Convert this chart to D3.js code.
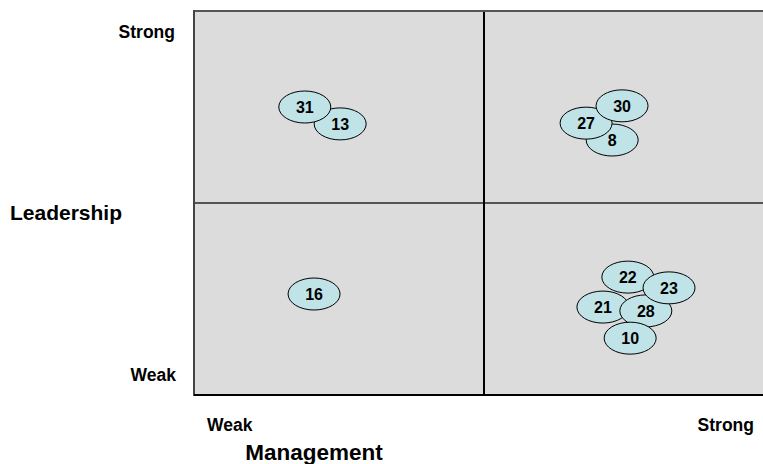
<!DOCTYPE html>
<html><head><meta charset="utf-8">
<script src="https://cdn.jsdelivr.net/npm/d3@7"></script>
<style>body{margin:0;background:#fff}svg{display:block}text{font-family:Arial,"Liberation Sans",sans-serif;font-weight:bold;fill:#000}</style>
</head><body>
<svg id="c" width="763" height="464"></svg>
<script>
const ids = ["13","31","8","27","30","16","22","21","28","23","10"];
const management = [2.52,1.91,7.21,6.76,7.38,2.07,7.48,7.05,7.79,8.19,7.52];
const leadership = [7.06,7.5,6.64,7.08,7.53,2.63,3.07,2.29,2.19,2.79,1.48];
const xLabels = ["Weak","Strong"];
const yLabels = ["Weak","Strong"];

const svg = d3.select("#c");
const x = d3.scaleLinear().domain([0,10]).range([194,774]);
const y = d3.scaleLinear().domain([0,10]).range([395,11]);

svg.append("rect").attr("x",x(0)).attr("y",y(10)).attr("width",x(10)-x(0)).attr("height",y(0)-y(10)).attr("fill","#dcdcdc");
// dividers
svg.append("line").attr("x1",x(0)).attr("x2",x(10)).attr("y1",y(5)).attr("y2",y(5)).attr("stroke","#555").attr("stroke-width",2);
svg.append("line").attr("x1",x(5)).attr("x2",x(5)).attr("y1",y(0)).attr("y2",y(10)).attr("stroke","#000").attr("stroke-width",2);
// borders
svg.append("line").attr("x1",x(0)).attr("x2",x(10)).attr("y1",y(10)).attr("y2",y(10)).attr("stroke","#555").attr("stroke-width",2);
svg.append("line").attr("x1",x(0)).attr("x2",x(0)).attr("y1",y(10)-1).attr("y2",y(0)+1).attr("stroke","#444").attr("stroke-width",2);
svg.append("line").attr("x1",x(0)).attr("x2",x(10)).attr("y1",y(0)).attr("y2",y(0)).attr("stroke","#000").attr("stroke-width",2);

const g = svg.append("g");
ids.forEach((id,i)=>{
  const e = g.append("g");
  e.append("ellipse").attr("cx",x(management[i])).attr("cy",y(leadership[i])).attr("rx",26).attr("ry",16)
    .attr("fill","#bfe3e6").attr("stroke","#000").attr("stroke-width",1);
  e.append("text").attr("x",x(management[i])).attr("y",y(leadership[i])).attr("dy","0.36em")
    .attr("text-anchor","middle").attr("font-size",16).text(id);
});

// axis labels
svg.append("text").attr("x",175).attr("y",38).attr("text-anchor","end").attr("font-size",17.5).text(yLabels[1]);
svg.append("text").attr("x",176).attr("y",381).attr("text-anchor","end").attr("font-size",17.5).text(yLabels[0]);
svg.append("text").attr("x",10).attr("y",220).attr("font-size",21).text("Leadership");
svg.append("text").attr("x",207).attr("y",431).attr("font-size",17.5).text(xLabels[0]);
svg.append("text").attr("x",754).attr("y",431).attr("text-anchor","end").attr("font-size",17.5).text(xLabels[1]);
svg.append("text").attr("x",314).attr("y",460).attr("text-anchor","middle").attr("font-size",22.5).text("Management");
</script>
</body></html>
